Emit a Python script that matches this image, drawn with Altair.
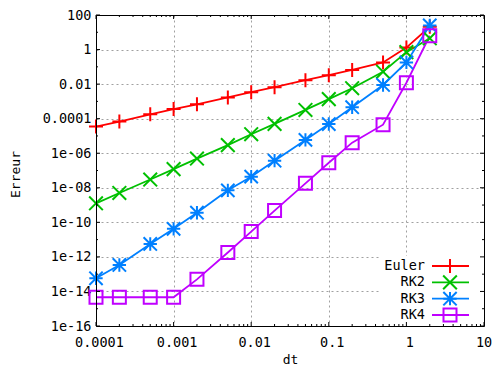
import altair as alt
import pandas as pd
import math

# ---------------- data ----------------
dt = [1e-4, 2e-4, 5e-4, 1e-3, 2e-3, 5e-3, 1e-2, 2e-2, 5e-2, 0.1, 0.2, 0.5, 1, 2]
euler = [3.5e-5, 6.8e-5, 1.8e-4, 3.6e-4, 6.8e-4, 1.7e-3, 3.4e-3, 6.6e-3, 1.7e-2,
         3.3e-2, 6.6e-2, 0.18, 1.3, 21]
rk2 = [1.26e-9, 5.0e-9, 3.0e-8, 1.2e-7, 4.9e-7, 2.95e-6, 1.26e-5, 5.0e-5, 3.2e-4,
       1.35e-3, 5.8e-3, 0.052, 0.71, 4.5]
rk3 = [5.8e-14, 3.4e-13, 5.6e-12, 4.2e-11, 3.6e-10, 7.1e-9, 4.4e-8, 3.7e-7, 5.9e-6,
       4.9e-5, 4.6e-4, 8.9e-3, 0.18, 25]
rk4 = [4.6e-15, 4.6e-15, 4.6e-15, 4.6e-15, 5.0e-14, 1.8e-12, 2.9e-11, 4.8e-10, 1.8e-8,
       2.8e-7, 4.1e-6, 4.5e-5, 0.012, 6.3]

series = ["Euler", "RK2", "RK3", "RK4"]
colors = ["#ff0000", "#00c000", "#0080ff", "#c000ff"]
shapes = ["M-1,0H1M0,-1V1",
          "M-1,-1L1,1M-1,1L1,-1",
          "M-1,0H1M0,-1V1M-1,-1L1,1M-1,1L1,-1",
          "M-1,-1H1V1H-1Z"]
sizes = [196, 169, 169, 100]

x_tick_values = [1e-4, 1e-3, 1e-2, 1e-1, 1, 10]
x_tick_labels = ["0.0001", "0.001", "0.01", "0.1", "1", "10"]
y_tick_values = [1e-16, 1e-14, 1e-12, 1e-10, 1e-8, 1e-6, 1e-4, 1e-2, 1, 100]
y_tick_labels = ["1e-16", "1e-14", "1e-12", "1e-10", "1e-08", "1e-06",
                 "0.0001", "0.01", "1", "100"]
x_minor = [k * d for d in [1e-4, 1e-3, 1e-2, 1e-1, 1] for k in range(2, 10)]
y_minor = [1e-15, 1e-13, 1e-11, 1e-9, 1e-7, 1e-5, 1e-3, 1e-1, 10]

FONT = "DejaVu Sans Mono"
FS = 13.5
W, H = 388, 311

# ---------------- tables ----------------
rows = []
for name, vals in zip(series, [euler, rk2, rk3, rk4]):
    for x, v in zip(dt, vals):
        rows.append({"dt": x, "err": v, "series": name})
df = pd.DataFrame(rows)


def label_expr(values, labels):
    expr = "''"
    for v, l in zip(values, labels):
        e = round(math.log10(v))
        expr = f"(round(log(datum.value)/LN10) == {e} ? '{l}' : {expr})"
    return expr


xscale = alt.Scale(type="log", domain=[1e-4, 10], nice=False)
yscale = alt.Scale(type="log", domain=[1e-16, 100], nice=False)
cscale = alt.Scale(domain=series, range=colors)
sscale = alt.Scale(domain=series, range=shapes)
zscale = alt.Scale(domain=series, range=sizes)

xaxis = alt.Axis(values=x_tick_values, labelExpr=label_expr(x_tick_values, x_tick_labels),
                 grid=True, gridDash=[2, 3], gridColor="#a0a0a0", gridWidth=1,
                 ticks=False, tickSize=0, domain=False, labelFlush=False,
                 labelOverlap=False, labelBaseline="alphabetic", labelPadding=20.5,
                 labelOffset={"condition": {"test": "datum.value > 5", "value": -0.5},
                              "value": 3},
                 labelFont=FONT, labelFontSize=FS, labelColor="black",
                 title="dt", titleFont=FONT, titleFontSize=13, titleFontWeight="normal",
                 titleColor="black", titleX=W / 2, titleY=40, titleAlign="center",
                 titleBaseline="bottom")
yaxis = alt.Axis(values=y_tick_values, labelExpr=label_expr(y_tick_values, y_tick_labels),
                 grid=True, gridDash=[2, 3], gridColor="#a0a0a0", gridWidth=1,
                 ticks=False, tickSize=0, domain=False, labelFlush=False,
                 labelOverlap=False, labelPadding=5, labelFont=FONT, labelFontSize=FS,
                 labelColor="black",
                 title="Erreur", titleFont=FONT, titleFontSize=13, titleFontWeight="normal",
                 titleColor="black", titleX=-77, titleY=159, titleAlign="center",
                 titleAngle=270, titleBaseline="alphabetic")

XE = alt.X("dt:Q", scale=xscale, axis=xaxis)
YE = alt.Y("err:Q", scale=yscale, axis=yaxis)

one = pd.DataFrame({"k": [0]})

# white key background
key_bg = alt.Chart(one).mark_rect(fill="white").encode(
    x=alt.value(283), x2=alt.value(W), y=alt.value(241), y2=alt.value(H))

base = alt.Chart(df)
lines = base.mark_line(strokeWidth=1.8).encode(
    x=XE, y=YE,
    color=alt.Color("series:N", scale=cscale, legend=None),
    detail="series:N",
    order="dt:Q",
)
points = base.mark_point(filled=False, strokeWidth=2, opacity=1).encode(
    x=XE, y=YE,
    color=alt.Color("series:N", scale=cscale, legend=None),
    shape=alt.Shape("series:N", scale=sscale, legend=None),
    size=alt.Size("series:N", scale=zscale, legend=None),
)

xt_major = pd.DataFrame({"dt": x_tick_values})
xt_minor = pd.DataFrame({"dt": x_minor})
yt_major = pd.DataFrame({"err": y_tick_values})
yt_minor = pd.DataFrame({"err": y_minor})


def xticks(data, length):
    b = alt.Chart(data).mark_rule(color="black", strokeWidth=1)
    return [b.encode(x=XE, y=alt.value(H), y2=alt.value(H - length)),
            b.encode(x=XE, y=alt.value(0), y2=alt.value(length))]


def yticks(data, length):
    b = alt.Chart(data).mark_rule(color="black", strokeWidth=1)
    return [b.encode(y=YE, x=alt.value(0), x2=alt.value(length)),
            b.encode(y=YE, x=alt.value(W), x2=alt.value(W - length))]


border = alt.Chart(one).mark_rect(filled=False, stroke="black", strokeWidth=1).encode(
    x=alt.value(0.5), x2=alt.value(W + 0.5), y=alt.value(0.5), y2=alt.value(H + 0.5))

main = alt.layer(key_bg, lines, points,
                 *xticks(xt_major, 4), *xticks(xt_minor, 2),
                 *yticks(yt_major, 4), *yticks(yt_minor, 2),
                 border)

# ---------------- key (legend) ----------------
key_df = pd.DataFrame({"series": series})
ky = alt.Y("series:N", scale=alt.Scale(type="point", domain=series, range=[251, 300], padding=0),
           axis=None)
kc = alt.Color("series:N", scale=cscale, legend=None)
kbase = alt.Chart(key_df)
key_text = kbase.mark_text(align="right", baseline="middle", font=FONT, fontSize=FS,
                           color="black").encode(x=alt.value(329), y=ky, text="series:N")
key_line = kbase.mark_rule(strokeWidth=1.8).encode(
    x=alt.value(336), x2=alt.value(373), y=ky, color=kc)
key_pt = kbase.mark_point(filled=False, strokeWidth=2, opacity=1).encode(
    x=alt.value(354), y=ky, color=kc,
    shape=alt.Shape("series:N", scale=sscale, legend=None),
    size=alt.Size("series:N", scale=zscale, legend=None))
key = alt.layer(key_text, key_line, key_pt)

chart = alt.layer(main, key).resolve_scale(y="independent").properties(
    width=W, height=H,
    autosize=alt.AutoSizeParams(type="none"),
    padding={"left": 88, "top": 7, "right": 8, "bottom": 41},
    background="white",
).configure_view(stroke=None)

chart.save("out.html", embed_options={"renderer": "svg", "actions": False})
